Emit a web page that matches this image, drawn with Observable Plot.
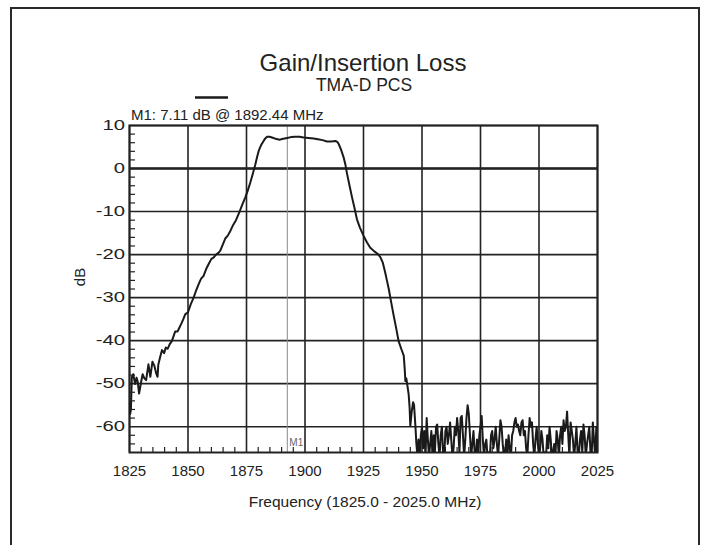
<!DOCTYPE html>
<html>
<head>
<meta charset="utf-8">
<script src="https://cdn.jsdelivr.net/npm/d3@7"></script>
<script src="https://cdn.jsdelivr.net/npm/@observablehq/plot@0.6"></script>
<style>
  html, body { margin: 0; padding: 0; background: #fff; }
  #wrap { position: relative; width: 709px; height: 545px; overflow: hidden; }
  #border { position: absolute; left: 10px; top: 7px; width: 686px; height: 600px;
            border: 2px solid #2a2a2a; border-bottom: none; pointer-events: none; }
</style>
</head>
<body>
<div id="wrap"><div id="border"></div></div>
<script>
// ---- chart data ----
const titleText = "Gain/Insertion Loss";
const subtitleText = "TMA-D PCS";
const markerText = "M1: 7.11 dB @ 1892.44 MHz";
const markerName = "M1";
const markerFreq = [1892.44];
const xLabel = "Frequency (1825.0 - 2025.0 MHz)";
const yLabel = "dB";

const xTicks = [1825, 1850, 1875, 1900, 1925, 1950, 1975, 2000, 2025];
const yTicks = [-60, -50, -40, -30, -20, -10, 0, 10];
const xMinor = [1830,1835,1840,1845,1855,1860,1865,1870,1880,1885,1890,1895,1905,1910,1915,1920,
                1930,1935,1940,1945,1955,1960,1965,1970,1980,1985,1990,1995,2005,2010,2015,2020];
const yMinor = [-64,-62,-58,-56,-54,-52,-48,-46,-44,-42,-38,-36,-34,-32,-28,-26,-24,-22,
                -18,-16,-14,-12,-8,-6,-4,-2,2,4,6,8];
const xDomain = [1825, 2025];
const yDomain = [-66, 10];

// measured trace: filter response (frequency in MHz, gain in dB)
const filterFreq = [
  1825.0,1825.3,1825.6,1826.0,1826.6,1827.4,1828.0,1828.5,1829.1,1830.0,
  1830.6,1831.3,1832.1,1833.1,1833.9,1834.8,1835.6,1836.4,1837.0,1837.3,
  1838.1,1838.9,1839.8,1840.5,1841.3,1842.2,1843.1,1843.8,1844.5,1845.5,
  1846.3,1847.2,1848.0,1848.8,1850.0,1851.2,1852.4,1853.5,1854.6,1855.6,
  1856.6,1857.8,1859.0,1860.0,1860.9,1862.0,1863.0,1863.8,1865.0,1866.0,
  1867.0,1868.1,1869.3,1870.5,1871.6,1872.5,1873.5,1874.5,1875.5,1876.6,
  1877.7,1878.8,1879.5,1880.2,1881.2,1882.3,1883.0,1883.8,1884.8,1885.9,
  1887.5,1889.1,1890.7,1892.4,1894.0,1895.9,1897.7,1899.4,1901.5,1903.7,
  1905.5,1907.5,1909.4,1911.2,1913.0,1913.8,1914.4,1915.4,1916.5,1917.3,
  1918.0,1919.0,1920.1,1921.2,1922.2,1923.5,1925.1,1926.5,1927.9,1929.5,
  1931.0,1932.2,1933.2,1934.2,1935.0,1935.8,1936.8,1937.9,1939.0,1940.0,
  1941.2,1942.2,1942.6,1942.9,1943.3,1943.6,1944.3,1944.7,1945.0,1945.6,
  1946.2,1946.6,1947.2,1947.6
];
const filterDb = [
  -54.5,-57.0,-56.0,-48.5,-47.8,-50.1,-48.6,-49.5,-52.3,-49.5,
  -47.8,-48.7,-49.2,-45.5,-48.4,-44.9,-45.8,-47.6,-48.4,-45.6,
  -43.8,-42.2,-42.9,-41.6,-41.9,-40.8,-40.1,-39.0,-37.9,-37.9,
  -37.0,-36.0,-35.0,-33.9,-33.4,-31.5,-30.0,-28.3,-26.8,-25.6,
  -25.0,-23.3,-22.0,-21.0,-20.7,-20.0,-19.6,-19.1,-17.5,-16.2,
  -15.6,-14.5,-13.1,-12.0,-10.6,-9.4,-8.0,-6.7,-5.2,-3.3,
  -1.2,1.0,2.6,4.1,5.4,6.4,7.0,7.4,7.4,7.2,
  6.9,6.7,6.9,7.1,7.3,7.4,7.4,7.2,7.1,7.0,
  6.8,6.6,6.3,6.3,6.4,6.2,5.7,4.4,2.6,0.8,
  -1.3,-3.9,-6.7,-9.3,-11.8,-13.8,-15.7,-17.2,-18.4,-19.2,
  -19.8,-20.6,-21.8,-24.0,-26.0,-28.0,-31.0,-34.2,-37.2,-40.1,
  -42.0,-43.5,-46.5,-49.4,-48.8,-49.8,-52.5,-55.5,-59.8,-56.5,
  -54.3,-55.0,-60.0,-64.0
];
// noise floor part of the same trace
const noiseFreq = [
  1948.0,1948.5,1949.0,1949.5,1950.0,1950.5,1951.0,1951.5,1952.0,1952.5,
  1953.0,1953.5,1954.0,1954.5,1955.0,1955.5,1956.0,1956.5,1957.0,1957.5,
  1958.0,1958.5,1959.0,1959.5,1960.0,1960.5,1961.0,1961.5,1962.0,1962.5,
  1963.0,1963.5,1964.0,1964.5,1965.0,1965.5,1966.0,1966.5,1967.0,1967.5,
  1968.0,1968.5,1969.0,1969.5,1970.0,1970.5,1971.0,1971.5,1972.0,1972.5,
  1973.0,1973.5,1974.0,1974.5,1975.0,1975.5,1976.0,1976.5,1977.0,1977.5,
  1978.0,1978.5,1979.0,1979.5,1980.0,1980.5,1981.0,1981.5,1982.0,1982.5,
  1983.0,1983.5,1984.0,1984.5,1985.0,1985.5,1986.0,1986.5,1987.0,1987.5,
  1988.0,1988.5,1989.0,1989.5,1990.0,1990.5,1991.0,1991.5,1992.0,1992.5,
  1993.0,1993.5,1994.0,1994.5,1995.0,1995.5,1996.0,1996.5,1997.0,1997.5,
  1998.0,1998.5,1999.0,1999.5,2000.0,2000.5,2001.0,2001.5,2002.0,2002.5,
  2003.0,2003.5,2004.0,2004.5,2005.0,2005.5,2006.0,2006.5,2007.0,2007.5,
  2008.0,2008.5,2009.0,2009.5,2010.0,2010.5,2011.0,2011.5,2012.0,2012.5,
  2013.0,2013.5,2014.0,2014.5,2015.0,2015.5,2016.0,2016.5,2017.0,2017.5,
  2018.0,2018.5,2019.0,2019.5,2020.0,2020.5,2021.0,2021.5,2022.0,2022.5,
  2023.0,2023.5,2024.0,2024.5,2025.0
];
const noiseDb = [
  -66.5,-63,-67,-62,-60,-65,-61,-67,-58,-63,
  -67,-64,-61,-67,-62,-66,-60,-59.5,-64,-67,
  -62,-60,-66,-67,-61,-60,-64,-62,-59,-63,
  -67,-65,-60,-62,-58,-61,-66,-58,-57.5,-62,
  -67,-63,-58,-55,-57,-62,-67,-64,-61,-66,
  -67,-63,-67,-62,-60,-57.5,-63,-67,-64,-63,
  -67,-66,-67,-62,-61,-65,-63,-60,-64,-67,
  -63,-58.5,-60,-64,-67,-66,-63,-67,-62,-65,
  -67,-62,-61,-59,-58,-60,-59.5,-61,-62,-59,
  -58.5,-62,-61,-65,-67,-62,-58,-60,-59,-64,
  -67,-63,-60,-64,-67,-65,-61,-63,-67,-66,
  -67,-62,-65,-60,-63,-67,-66,-64,-67,-61,
  -63,-67,-62,-60,-64,-58.5,-61,-60,-56.5,-62,
  -67,-59,-61,-63,-67,-64,-60,-66,-67,-63,
  -61,-66,-59.5,-62,-67,-64,-62,-60,-66,-67,
  -59,-63,-67,-60,-66
];

const freqMHz = filterFreq.concat(noiseFreq);
const gainDb = filterDb.concat(noiseDb);
const trace = freqMHz.map((f, i) => ({f, g: gainDb[i]}));

const W = 709, H = 545;
const mL = 129, mR = 112, mT = 125, mB = 93;
const innerW = W - mL - mR, innerH = H - mT - mB;
const gridColor = "#222";
const font = "'Liberation Sans', Arial, sans-serif";

const chart = Plot.plot({
  width: W, height: H,
  marginLeft: mL, marginRight: mR, marginTop: mT, marginBottom: mB,
  style: {fontFamily: font, fontSize: "15px", background: "transparent", color: "#222"},
  x: {domain: xDomain, label: null},
  y: {domain: yDomain, label: null},
  marks: [
    Plot.gridX(xTicks, {stroke: gridColor, strokeOpacity: 1, strokeWidth: 1.6}),
    Plot.gridY(yTicks, {stroke: gridColor, strokeOpacity: 1, strokeWidth: 1.6}),
    Plot.ruleY([0], {stroke: gridColor, strokeWidth: 2.4}),
    Plot.ruleX(xMinor, {stroke: gridColor, strokeWidth: 1.2, insetTop: innerH - 5}),
    Plot.ruleY(yMinor, {stroke: gridColor, strokeWidth: 1.2, insetRight: innerW - 6}),
    Plot.ruleX(markerFreq, {stroke: "#8a8a8a", strokeWidth: 1}),
    Plot.text([markerName], {x: () => markerFreq[0], frameAnchor: "bottom", textAnchor: "start",
      dx: 2, dy: -7, fontSize: 10, fill: "#666"}),
    Plot.frame({stroke: gridColor, strokeWidth: 2}),
    Plot.line(trace, {x: "f", y: "g", stroke: "#1a1a1a", strokeWidth: 2, strokeLinejoin: "round", clip: true}),
    Plot.axisX(xTicks, {tickSize: 0, tickPadding: 13, tickFormat: d => String(d), fontSize: 15, label: null, fill: "#222"}),
    Plot.axisY(yTicks, {tickSize: 0, tickPadding: 4.5, tickFormat: d => String(d), fontSize: 15, label: null, fill: "#222"})
  ]
});

document.getElementById("wrap").prepend(chart);

const svg = d3.select(chart);
// the y tick labels of the reference are drawn horizontally wider: stretch about their right edge
svg.selectAll('g[aria-label="y-axis tick label"] text').each(function() {
  const b = this.getBBox();
  const rx = b.x + b.width;
  const t = d3.select(this);
  const prev = t.attr("transform") || "";
  t.attr("transform", `${prev} translate(${rx},0) scale(1.35,1) translate(${-rx},0)`);
});

svg.append("text").attr("x", 363).attr("y", 71).attr("text-anchor", "middle")
  .attr("font-family", font).attr("font-size", 24).attr("fill", "#222").text(titleText);
svg.append("text").attr("x", 364).attr("y", 91).attr("text-anchor", "middle")
  .attr("font-family", font).attr("font-size", 17.5).attr("fill", "#222").text(subtitleText);
svg.append("line").attr("x1", 195).attr("x2", 228).attr("y1", 97.5).attr("y2", 97.5)
  .attr("stroke", "#1a1a1a").attr("stroke-width", 2.6);
svg.append("text").attr("x", 131).attr("y", 120).attr("text-anchor", "start")
  .attr("font-family", font).attr("font-size", 15).attr("fill", "#222").text(markerText);
svg.append("text").attr("x", 365).attr("y", 507).attr("text-anchor", "middle")
  .attr("font-family", font).attr("font-size", 15.5).attr("fill", "#222").text(xLabel);
svg.append("text").attr("transform", "translate(85,277) rotate(-90)").attr("text-anchor", "middle")
  .attr("font-family", font).attr("font-size", 15).attr("fill", "#222").text(yLabel);
</script>
</body>
</html>
